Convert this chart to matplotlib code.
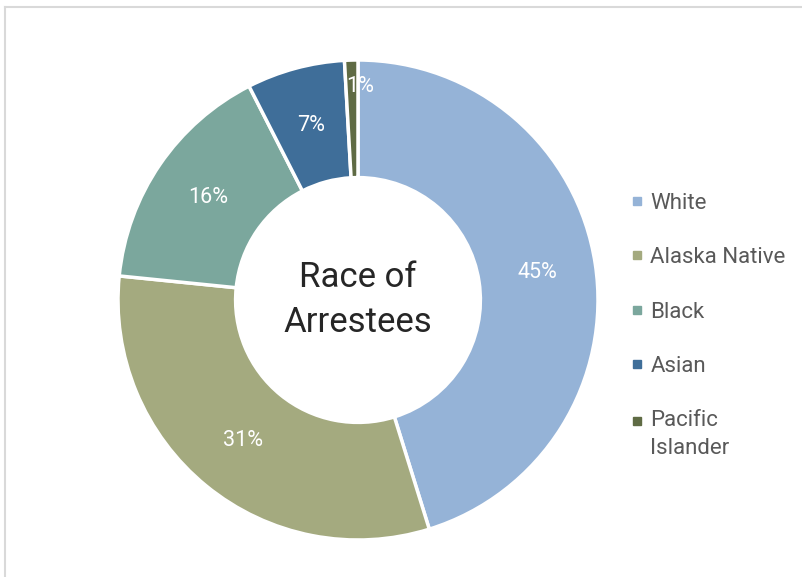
import matplotlib.pyplot as plt
from matplotlib.lines import Line2D
from matplotlib.legend_handler import HandlerLine2D

plt.rcParams['font.family'] = ['Roboto', 'DejaVu Sans']

races = ['White', 'Alaska Native', 'Black', 'Asian', 'Pacific\nIslander']
shares = [45.2, 31.4, 15.9, 6.6, 0.9]
colors = ['#95B3D7', '#A4AA7F', '#7BA79D', '#3F6E99', '#5F6B44']

W, H = 802, 577
fig = plt.figure(figsize=(W / 100, H / 100), dpi=100)

# pie centred at (358, 300) px with outer radius 240 px
cx, cy, r = 358, 300, 240
ax = fig.add_axes([(cx - r) / W, (H - cy - r) / H, 2 * r / W, 2 * r / H])

wedges, texts, autotexts = ax.pie(
    shares, colors=colors, startangle=90, counterclock=False, radius=1,
    autopct='%.0f%%', pctdistance=0.755,
    wedgeprops=dict(width=0.49, edgecolor='white', linewidth=2.5),
    textprops=dict(color='white', fontsize=15.5))

# small slice label sits a bit further out and to the right
autotexts[-1].set_position((0.01, 0.89))

ax.text(0, 0, 'Race of\nArrestees', ha='center', va='center', fontsize=25,
        color='#262626', linespacing=1.45)
ax.set_xlim(-1, 1)
ax.set_ylim(-1, 1)
ax.set_aspect('equal')
ax.axis('off')


class FirstLineHandler(HandlerLine2D):
    # keep the marker level with the first line of a two-line label
    def create_artists(self, legend, orig_handle, xdescent, ydescent, width, height, fontsize, trans):
        return super().create_artists(legend, orig_handle, xdescent, ydescent - 20,
                                      width, height, fontsize, trans)


handles = [Line2D([], [], marker='s', color=c, linestyle='none', markersize=6) for c in colors]
leg = fig.legend(handles, races, loc='upper left', bbox_to_anchor=(617 / W, 1 - 184 / H),
                 frameon=False, fontsize=16, labelcolor='#595959', handletextpad=0.1,
                 labelspacing=1.5, handlelength=1.0, borderaxespad=0,
                 handler_map={handles[-1]: FirstLineHandler()})
leg.get_texts()[-1].set_linespacing(1.4)

# chart area border (left and top visible)
fig.add_artist(Line2D([4.5 / W, 4.5 / W], [0, 1 - 6.5 / H], color='#D9D9D9', lw=1.5,
                      transform=fig.transFigure))
fig.add_artist(Line2D([4.5 / W, 1], [1 - 6.5 / H, 1 - 6.5 / H], color='#D9D9D9', lw=1.5,
                      transform=fig.transFigure))

fig.savefig('out.png', dpi=100)
